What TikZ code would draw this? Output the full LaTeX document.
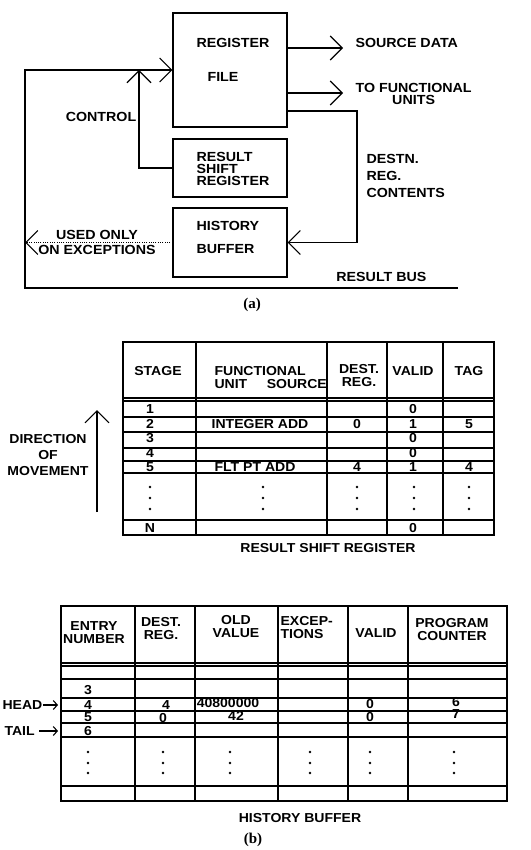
\documentclass[tikz,border=0pt]{standalone}
\usepackage{fontspec}
\setmainfont[FakeStretch=1.08]{Liberation Sans}
\newfontfamily\capfont{Liberation Serif}
\usetikzlibrary{arrows.meta}

\tikzset{
  lbl/.style={font=\fontsize{13.2}{12}\selectfont\bfseries, inner sep=0pt},
  cell/.style={font=\fontsize{13}{13}\selectfont\bfseries, inner sep=0pt},
  box/.style={draw, minimum width=114pt, inner sep=0pt},
  chev/.style={-{Straight Barb[length=12pt,width=24pt,line width=1.1pt]}},
  ptr/.style={-{Straight Barb[length=4pt,width=9pt]}},
  figcap/.style={font=\fontsize{15}{15}\selectfont\capfont\bfseries, inner sep=0pt},
}

\begin{document}
\begin{tikzpicture}[x=1pt, y=-1pt, line width=1.1pt]
    \path [use as bounding box]
      (0, 0) rectangle (530, 850);

    \newcommand{\rsrtable}{(123, 342) rectangle (494, 535)}
    \newcommand{\hbtable}{(61, 606) rectangle (507, 801)}

    % (a) register file and its neighbours
    \node[box, minimum height=114pt] (rf) at (230, 70) {};
    \node[box, minimum height=58pt] (rsr) at (230, 168) {};
    \node[box, minimum height=69pt] (hb) at (230, 242.5) {};
    \node[lbl, anchor=west] (rftop) at (196, 43) {REGISTER};
    \node[lbl, anchor=west] (rfbot) at (207, 77) {FILE};
    \node[lbl, anchor=west, align=left] (rsrtxt) at (196, 169)
      {RESULT\\SHIFT\\REGISTER};
    \node[lbl, anchor=west] (hbtop) at (196, 226) {HISTORY};
    \node[lbl, anchor=west] (hbbot) at (196, 249) {BUFFER};

    \node[lbl, anchor=west] (srcdata) at (355, 43) {SOURCE DATA};
    \node[lbl, anchor=west, align=center] (tofu) at (355, 94)
      {TO FUNCTIONAL\\UNITS};
    \node[lbl, anchor=west, align=left,
      font=\fontsize{13.2}{17}\selectfont\bfseries] (destn) at (366, 176)
      {DESTN.\\REG.\\CONTENTS};
    \node[lbl] (ctltxt) at (101, 117) {CONTROL};
    \node[lbl, align=center] (exctxt) at (97, 242)
      {USED ONLY\\[3pt]ON EXCEPTIONS};
    \node[lbl, anchor=east] (bustxt) at (427, 277) {RESULT BUS};

    \coordinate (srcend) at (343, 48);
    \coordinate (fuend) at (343, 93);
    \coordinate (dturn) at (357, 111);
    \coordinate (ctl) at (139, 70);
    \coordinate (busr) at (458, 288);
    \coordinate (busl) at (25, 288);
    \coordinate (excend) at (25, 242.5);

    \draw[chev] (rf.east |- srcend) -- (srcend);
    \draw[chev] (rf.east |- fuend) -- (fuend);
    \draw[chev] (rf.east |- dturn) -- (dturn) |- (hb.east);
    \draw[chev] (rsr.west) -| (ctl);
    \draw[chev] (busr) -- (busl) |- (rf.west);
    \draw[chev, line width=0.7pt, dash pattern=on 0.9pt off 1.4pt]
      (hb.west) -- (excend);

    \node[figcap] (capa) at (252, 305) {(a)};

    % (b) result shift register
    \draw \rsrtable;
    \foreach \cx in { 196, 327, 387, 443 } {
      \draw (\cx, 342) -- (\cx, 535);
    }
    \foreach \ry in { 398, 401, 417, 432, 448, 461, 473, 520 } {
      \draw (123, \ry) -- (494, \ry);
    }
    \node[cell] (hstage) at (158, 371) {STAGE};
    \node[cell, anchor=west, align=left] (hfu) at (214, 378)
      {FUNCTIONAL\\UNIT\hspace{1.5em}SOURCE};
    \node[cell, align=center] (hdest) at (359, 376) {DEST.\\REG.};
    \node[cell] (hvalid) at (413, 371) {VALID};
    \node[cell] (htag) at (469, 371) {TAG};
    \foreach \s/\sy in { 1/409, 2/424, 3/438, 4/453, 5/467, N/528 } {
      \node[cell] (stg\s) at (150, \sy) {\s};
    }
    \foreach \v/\vy in { a/409, b/438, c/453, d/528 } {
      \node[cell] (val\v) at (413, \vy) {0};
    }
    \node[cell] (fu2) at (260, 424) {INTEGER ADD};
    \node[cell] (dst2) at (357, 424) {0};
    \node[cell] (val2) at (413, 424) {1};
    \node[cell] (tag2) at (469, 424) {5};
    \node[cell] (fu5) at (255, 467) {FLT PT ADD};
    \node[cell] (dst5) at (357, 467) {4};
    \node[cell] (val5) at (413, 467) {1};
    \node[cell] (tag5) at (469, 467) {4};
    \foreach \cx in { 150, 263, 357, 414, 469 } {
      \foreach \dy in { 487, 498, 509 } {
        \fill (\cx, \dy) circle (1.3pt);
      }
    }
    \node[cell, align=center] (dirtxt) at (48, 455)
      {DIRECTION\\[3pt]OF\\[3pt]MOVEMENT};
    \coordinate (dirbot) at (97, 512);
    \coordinate (dirtop) at (97, 410);
    \draw[chev] (dirbot) -- (dirtop);
    \node[cell] (rsrcap) at (328, 548) {RESULT SHIFT REGISTER};

    % (b) history buffer
    \draw \hbtable;
    \foreach \cx in { 135, 195, 278, 348, 408 } {
      \draw (\cx, 606) -- (\cx, 801);
    }
    \foreach \ry in { 663, 666, 679, 698, 711, 723, 737, 786 } {
      \draw (61, \ry) -- (507, \ry);
    }
    \node[cell, align=center] (hentry) at (94, 633) {ENTRY\\NUMBER};
    \node[cell, align=center] (hdestb) at (161, 629) {DEST.\\REG.};
    \node[cell, align=center] (hold) at (236, 627) {OLD\\VALUE};
    \node[cell, anchor=west, align=left] (hexc) at (280, 628) {EXCEP-\\TIONS};
    \node[cell] (hvalidb) at (376, 633) {VALID};
    \node[cell, align=center] (hpc) at (452, 630) {PROGRAM\\COUNTER};
    \foreach \e/\ey in { 3/690, 4/705, 5/717, 6/731 } {
      \node[cell] (ent\e) at (88, \ey) {\e};
    }
    \node[cell] (dst4) at (166, 705) {4};
    \node[cell] (old4) at (228, 703) {40800000};
    \node[cell] (vld4) at (370, 704) {0};
    \node[cell] (pc4) at (456, 702) {6};
    \node[cell] (dstv5) at (163, 718) {0};
    \node[cell] (old5) at (236, 716) {42};
    \node[cell] (vld5) at (370, 717) {0};
    \node[cell] (pc5) at (456, 714.5) {7};
    \foreach \cx in { 88, 163, 230, 310, 370, 454 } {
      \foreach \dy in { 752, 763, 773 } {
        \fill (\cx, \dy) circle (1.3pt);
      }
    }
    \node[cell, anchor=west] (headtxt) at (2, 705) {HEAD};
    \node[cell, anchor=west] (tailtxt) at (4, 731) {TAIL};
    \coordinate (headend) at (58, 705);
    \coordinate (tailend) at (58, 731);
    \draw[ptr] (headtxt.east) -- (headend);
    \draw[ptr] ([xshift=4pt]tailtxt.east) -- (tailend);
    \node[cell] (hbcap) at (300, 818) {HISTORY BUFFER};

    \node[figcap] (capb) at (253, 840) {(b)};
  \end{tikzpicture}
\end{document}
